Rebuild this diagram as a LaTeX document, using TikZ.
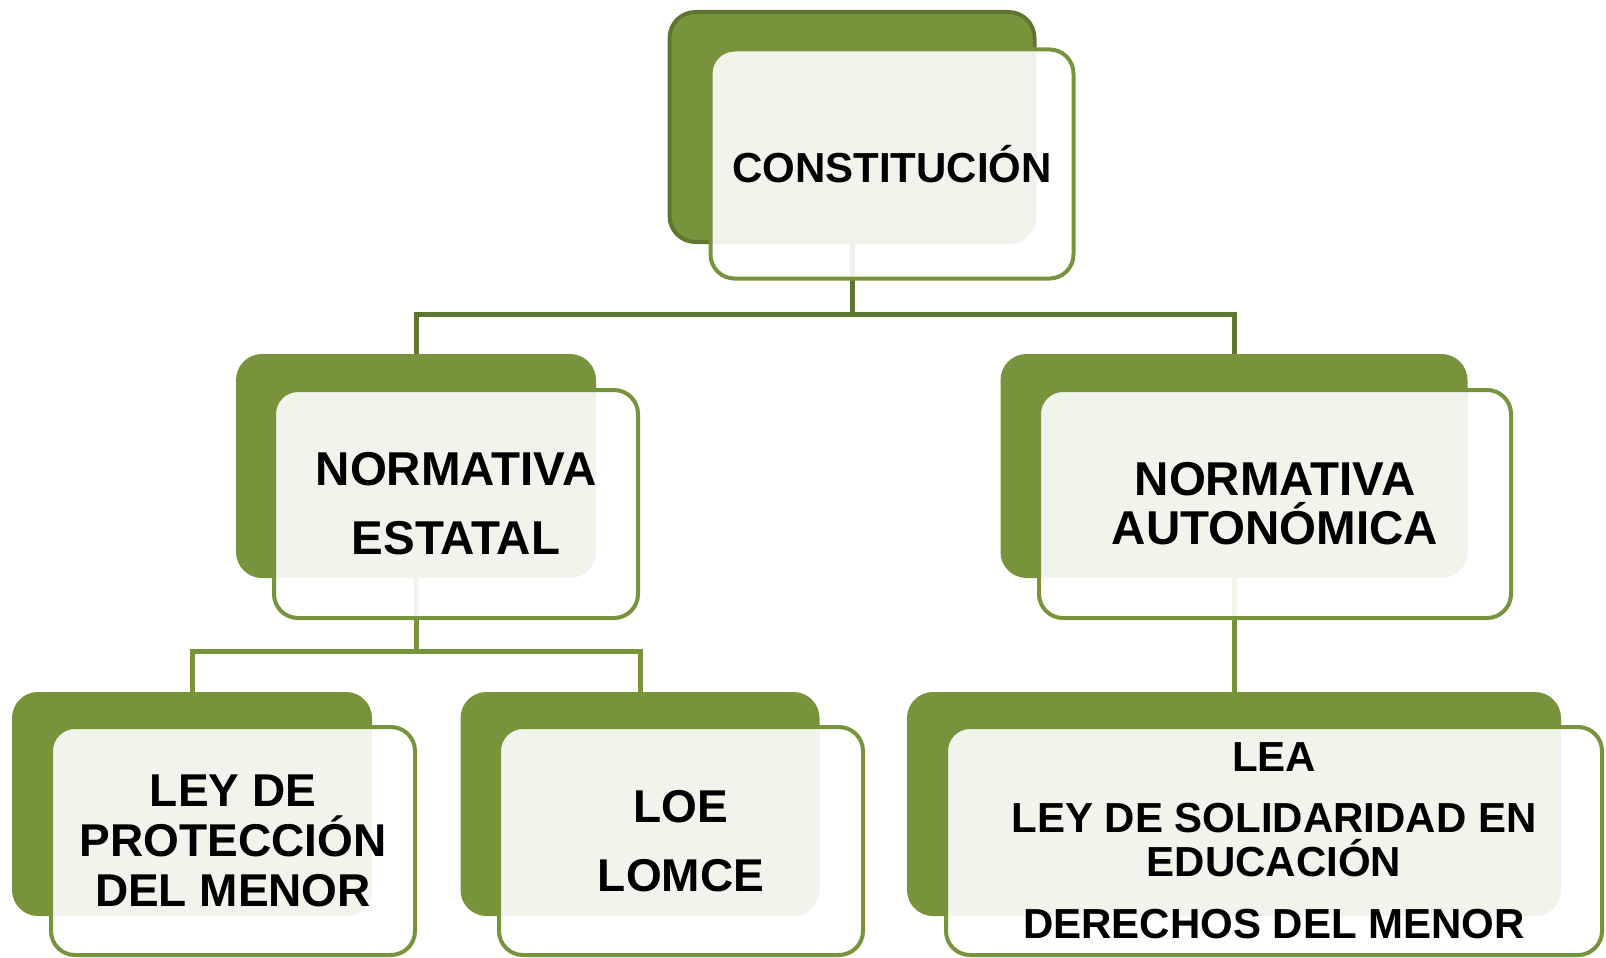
\documentclass[tikz,border=0pt]{standalone}
\usepackage{fontspec}
\setmainfont{Liberation Sans}
\usepackage{tikz}

\definecolor{oliva}{HTML}{77933C}
\definecolor{olivaosc}{HTML}{5F7630}

\begin{document}
\begin{tikzpicture}[x=1pt, y=-1pt,
    fondo/.style = {shape=rectangle, rounded corners=26pt, fill=oliva, minimum height=224pt},
    tarjeta/.style = {shape=rectangle, rounded corners=24pt, draw=oliva, line width=4pt, fill=white, fill opacity=0.9, text opacity=1, align=center, minimum height=228pt},
    enlace/.style = {draw=oliva, line width=5pt}]
                \useasboundingbox (0,0) rectangle (1606,958);
                % cajas de fondo
                \node[fondo, draw=olivaosc, line width=4pt, minimum width=365pt, minimum height=230pt] (constitucion) at (852,127) {};
                \node[fondo, minimum width=360pt] (estatal) at (416,466) {};
                \node[fondo, minimum width=467pt] (autonomica) at (1234,466) {};
                \node[fondo, minimum width=360pt] (proteccion) at (192,804) {};
                \node[fondo, minimum width=359pt] (loe) at (640,804) {};
                \node[fondo, minimum width=654pt] (lea) at (1234,804) {};
                % conexiones
                \draw[enlace, draw=olivaosc] (constitucion.south) -- ++(0,70) -| (estatal.north);
                \draw[enlace, draw=olivaosc] (constitucion.south) ++(0,70) -| (autonomica.north);
                \draw[enlace] (estatal.south) -- ++(0,73) -| (proteccion.north);
                \draw[enlace] (estatal.south) ++(0,73) -| (loe.north);
                \draw[enlace] (autonomica.south) -- (lea.north);
                % cajas con texto
                \node[tarjeta, minimum width=363pt, minimum height=229pt, font=\fontsize{42}{46}\selectfont\bfseries] (constitucionT) at ([shift={(40,37)}]constitucion.center) {CONSTITUCIÓN};
                \node[tarjeta, minimum width=364pt, font=\fontsize{47.5}{49}\selectfont\bfseries] (estatalT) at ([shift={(40,38)}]estatal.center) {NORMATIVA\\[20pt]ESTATAL};
                \node[tarjeta, minimum width=472pt, font=\fontsize{47.5}{49}\selectfont\bfseries] (autonomicaT) at ([shift={(41,38)}]autonomica.center) {NORMATIVA\\AUTONÓMICA};
                \node[tarjeta, minimum width=364pt, font=\fontsize{46}{50}\selectfont\bfseries] (proteccionT) at ([shift={(41,37)}]proteccion.center) {LEY DE\\PROTECCIÓN\\DEL MENOR};
                \node[tarjeta, minimum width=364pt, font=\fontsize{46}{50}\selectfont\bfseries] (loeT) at ([shift={(41,37)}]loe.center) {LOE\\[19pt]LOMCE};
                \node[tarjeta, minimum width=656pt, font=\fontsize{42}{44}\selectfont\bfseries] (leaT) at ([shift={(40,37)}]lea.center) {LEA\\[17pt]LEY DE SOLIDARIDAD EN\\EDUCACIÓN\\[18pt]DERECHOS DEL MENOR};
            \end{tikzpicture}
\end{document}
